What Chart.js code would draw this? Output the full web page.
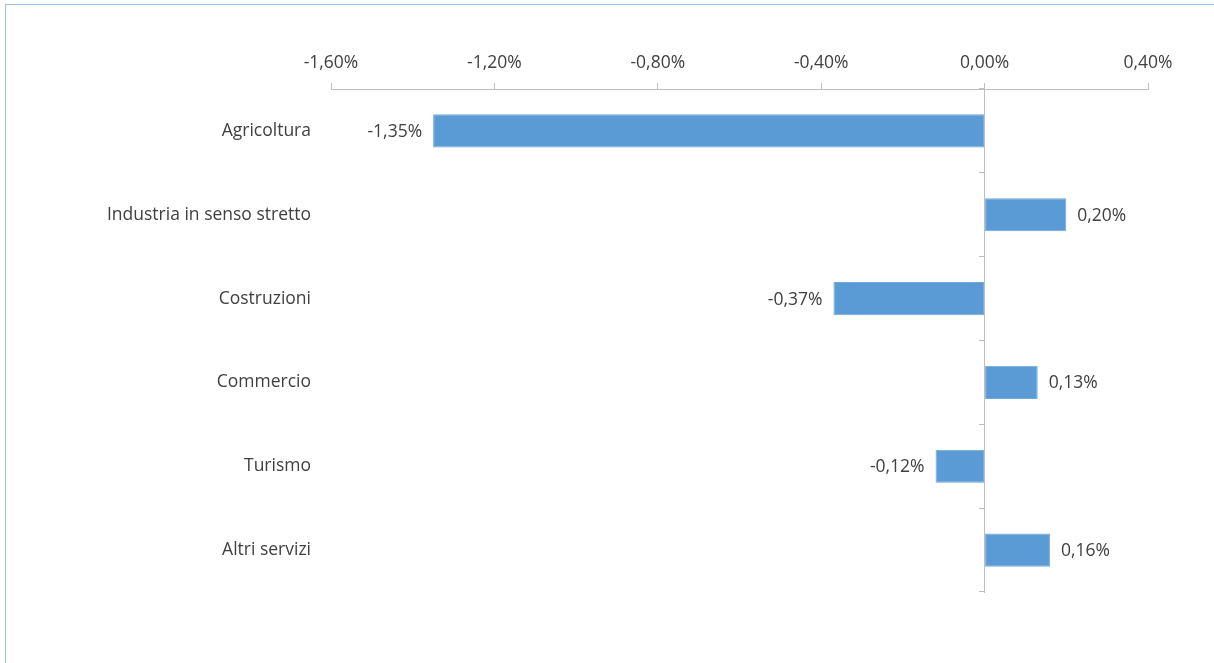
<!DOCTYPE html>
<html>
<head>
<meta charset="utf-8">
<script src="https://cdn.jsdelivr.net/npm/chart.js@4.4.1/dist/chart.umd.min.js"></script>
<style>
  html, body { margin: 0; padding: 0; background: #fff; overflow: hidden; }
  #frame { position: absolute; left: 5px; top: 4px; width: 1220px; height: 670px;
           border-top: 1px solid #9dc3e6; border-left: 1px solid #9dc3e6; }
  #wrap { position: absolute; left: 0; top: 0; width: 1214px; height: 663px; }
</style>
</head>
<body>
<div id="frame"></div>
<div id="wrap"><canvas id="myChart"></canvas></div>
<script>
const categories = ["Agricoltura", "Industria in senso stretto", "Costruzioni", "Commercio", "Turismo", "Altri servizi"];
const values = [-1.35, 0.20, -0.37, 0.13, -0.12, 0.16];
const axisMin = -1.6;
const axisMax = 0.4;
const axisStep = 0.4;

const fontFamily = "'Open Sans', 'Noto Sans', sans-serif";
const fontSize = 17.5;
const textColor = "#404040";
const lineColor = "#bfbfbf";

function pct(v) {
  if (Math.abs(v) < 1e-9) v = 0;
  return v.toFixed(2).replace(".", ",") + "%";
}

// value labels next to the bar ends
const valueLabels = {
  id: "valueLabels",
  afterDatasetsDraw(chart) {
    const ctx = chart.ctx;
    const meta = chart.getDatasetMeta(0);
    ctx.save();
    ctx.font = fontSize + "px " + fontFamily;
    ctx.fillStyle = textColor;
    ctx.textBaseline = "middle";
    meta.data.forEach(function (bar, i) {
      const v = values[i];
      if (v < 0) {
        ctx.textAlign = "right";
        ctx.fillText(pct(v), bar.x - 11, bar.y + 1);
      } else {
        ctx.textAlign = "left";
        ctx.fillText(pct(v), bar.x + 11, bar.y + 1);
      }
    });
    ctx.restore();
  }
};

new Chart("myChart", {
  type: "bar",
  data: {
    labels: categories,
    datasets: [{
      data: values,
      backgroundColor: "#5b9bd5",
      borderColor: "#6fa8dc",
      borderWidth: 1,
      borderSkipped: false,
      categoryPercentage: 1,
      barPercentage: 0.395,
      yAxisID: "y"
    }]
  },
  options: {
    indexAxis: "y",
    responsive: true,
    maintainAspectRatio: false,
    animation: false,
    layout: { padding: { left: 0, right: 66, top: 0, bottom: 71 } },
    plugins: {
      legend: { display: false },
      tooltip: { enabled: false }
    },
    scales: {
      x: {
        position: "top",
        min: axisMin,
        max: axisMax,
        afterFit(scale) { scale.height = 89; },
        afterBuildTicks(scale) {
          const t = [];
          for (let v = axisMin; v <= axisMax + 1e-9; v += axisStep) t.push({ value: Math.round(v * 100) / 100 });
          scale.ticks = t;
        },
        ticks: {
          callback: function (v) { return pct(v); },
          color: textColor,
          font: { family: fontFamily, size: fontSize },
          padding: 9,
          maxRotation: 0
        },
        grid: { drawOnChartArea: false, drawTicks: true, tickLength: 6, color: lineColor },
        border: { display: true, color: lineColor, width: 1 }
      },
      y: {
        position: "left",
        afterFit(scale) { scale.width = 331; },
        ticks: {
          color: textColor,
          font: { family: fontFamily, size: fontSize },
          padding: 20
        },
        grid: { display: false, drawTicks: false },
        border: { display: false }
      },
      y2: {
        type: "category",
        position: { x: 0 },
        afterFit(scale) { scale.width = 0; },
        ticks: { display: false },
        grid: { offset: true, drawOnChartArea: false, drawTicks: true, tickLength: 5, color: lineColor },
        border: { display: true, color: lineColor, width: 1 }
      }
    }
  },
  plugins: [valueLabels]
});
</script>
</body>
</html>
